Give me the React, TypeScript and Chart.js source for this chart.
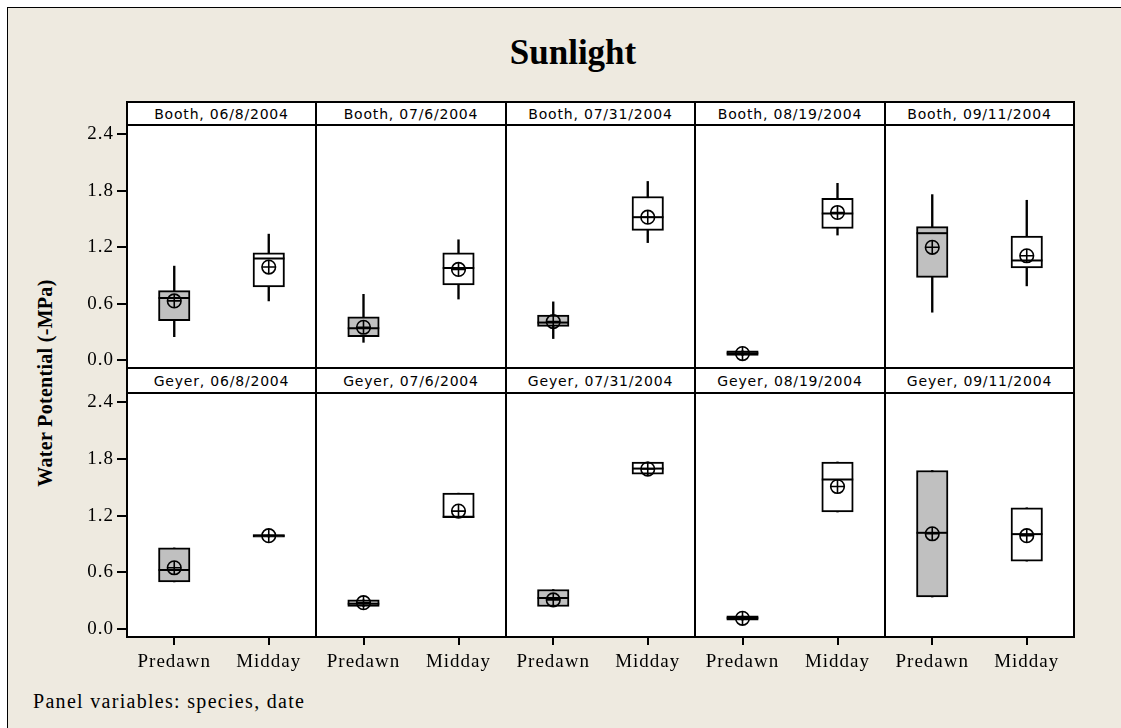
import React, { useEffect, useRef } from "react";
import { Chart, registerables } from "chart.js";

Chart.register(...registerables);

// ---------- data ----------
const chartTitle = "Sunlight";
const yAxisTitle = "Water Potential (-MPa)";
const footnote = "Panel variables: species, date";
const species = ["Booth", "Geyer"];
const dates = ["06/8/2004", "07/6/2004", "07/31/2004", "08/19/2004", "09/11/2004"];
const periods = ["Predawn", "Midday"];
const yTicks = [0, 0.6, 1.2, 1.8, 2.4];
const yMin = -0.083;
const yMax = 2.5;

// each entry: [Predawn, Midday]
const boothLow = [[0.25, 0.63], [0.19, 0.65], [0.23, 1.25], [0.05, 1.33], [0.51, 0.79]];
const boothQ1 = [[0.42, 0.78], [0.25, 0.8], [0.36, 1.38], [0.05, 1.4], [0.88, 0.98]];
const boothMedian = [[0.66, 1.08], [0.34, 0.98], [0.4, 1.52], [0.075, 1.56], [1.35, 1.06]];
const boothQ3 = [[0.74, 1.14], [0.46, 1.14], [0.48, 1.74], [0.1, 1.72], [1.42, 1.32]];
const boothHigh = [[1.0, 1.34], [0.7, 1.28], [0.62, 1.9], [0.1, 1.88], [1.76, 1.7]];
const boothMean = [[0.63, 0.99], [0.35, 0.965], [0.41, 1.52], [0.07, 1.57], [1.2, 1.11]];

const geyerLow = [[0.5, 0.975], [0.24, 1.18], [0.24, 1.64], [0.095, 1.24], [0.34, 0.72]];
const geyerQ1 = [[0.5, 0.975], [0.24, 1.18], [0.24, 1.64], [0.095, 1.24], [0.34, 0.72]];
const geyerMedian = [[0.625, 0.99], [0.27, 1.19], [0.33, 1.7], [0.117, 1.585], [1.02, 1.006]];
const geyerQ3 = [[0.86, 1.0], [0.31, 1.44], [0.42, 1.77], [0.14, 1.77], [1.68, 1.285]];
const geyerHigh = [[0.86, 1.0], [0.31, 1.44], [0.42, 1.77], [0.14, 1.77], [1.68, 1.285]];
const geyerMean = [[0.65, 0.99], [0.28, 1.25], [0.31, 1.695], [0.115, 1.51], [1.01, 0.99]];

const seriesBySpecies = [
  { low: boothLow, q1: boothQ1, median: boothMedian, q3: boothQ3, high: boothHigh, mean: boothMean },
  { low: geyerLow, q1: geyerQ1, median: geyerMedian, q3: geyerQ3, high: geyerHigh, mean: geyerMean },
];

// ---------- layout ----------
const xs = [127, 316, 506, 695, 885, 1074];
const rowPlotTop = [125, 393];
const rowPlotBottom = [368, 637];
const rowHeaderTop = [102, 368];
const Y_AXIS_W = 60;
const X_AXIS_H = 45;
const BOX_W = 31.5;
const serif = "'Liberation Serif', 'Times New Roman', serif";
const sans = "'DejaVu Sans', Verdana, sans-serif";
const BG = "#EEEAE0";
const BOX_GRAY = "#C0C0C0";

const spacingPlugin = {
  id: "letterSpacing",
  beforeDraw(chart: any) {
    try {
      (chart.ctx as any).letterSpacing = "1px";
    } catch (e) {}
  },
};

function Panel({ row, col }: { row: number; col: number }) {
  const ref = useRef<HTMLCanvasElement>(null);
  const L = col === 0 ? Y_AXIS_W : 0;
  const B = row === 1 ? X_AXIS_H : 0;
  const plotW = xs[col + 1] - xs[col];
  const plotH = rowPlotBottom[row] - rowPlotTop[row];
  const width = plotW + L;
  const height = plotH + B;

  useEffect(() => {
    const s = seriesBySpecies[row];
    const low = s.low[col];
    const q1 = s.q1[col];
    const med = s.median[col];
    const q3 = s.q3[col];
    const high = s.high[col];
    const mean = s.mean[col];
    const chart = new Chart(ref.current!, {
      type: "bar",
      data: {
        labels: periods,
        datasets: [
          {
            type: "bar",
            label: "whisker",
            data: low.map((v, k) => [v, high[k]]) as any,
            backgroundColor: "#000",
            borderWidth: 0,
            barThickness: 1.7,
            grouped: false,
            order: 4,
          } as any,
          {
            type: "bar",
            label: "box",
            data: q1.map((v, k) => [v, q3[k]]) as any,
            backgroundColor: [BOX_GRAY, "#FFFFFF"],
            borderColor: "#000",
            borderWidth: 2,
            borderSkipped: false,
            barThickness: BOX_W,
            grouped: false,
            order: 3,
          } as any,
          {
            type: "line",
            label: "median",
            data: med,
            showLine: false,
            pointStyle: "line",
            pointRadius: BOX_W / 2,
            pointBorderColor: "#000",
            pointBorderWidth: 2,
            order: 2,
          } as any,
          {
            type: "line",
            label: "mean",
            data: mean,
            showLine: false,
            pointStyle: "circle",
            pointRadius: 6.8,
            pointBackgroundColor: "rgba(0,0,0,0)",
            pointBorderColor: "#000",
            pointBorderWidth: 1.6,
            order: 1,
          } as any,
          {
            type: "line",
            label: "meanCross",
            data: mean,
            showLine: false,
            pointStyle: "cross",
            pointRadius: 6.8,
            pointBorderColor: "#000",
            pointBorderWidth: 1.6,
            order: 0,
          } as any,
        ],
      },
      options: {
        animation: false,
        responsive: false,
        events: [],
        layout: { padding: 0, autoPadding: false },
        plugins: { legend: { display: false }, tooltip: { enabled: false }, title: { display: false } },
        scales: {
          x: {
            display: row === 1,
            offset: true,
            afterFit: (sc: any) => {
              sc.height = B;
              sc.paddingLeft = 0;
              sc.paddingRight = 0;
              sc.paddingTop = 0;
              sc.paddingBottom = 0;
            },
            ticks: {
              color: "#000",
              font: { family: serif, size: 19 },
              padding: 6,
              autoSkip: false,
              maxRotation: 0,
              minRotation: 0,
            },
            grid: {
              display: true,
              drawOnChartArea: false,
              drawTicks: true,
              tickLength: 8,
              color: "#000",
              lineWidth: 2,
              offset: false,
            },
            border: { display: false },
          },
          y: {
            display: col === 0,
            min: yMin,
            max: yMax,
            afterBuildTicks: (sc: any) => {
              sc.ticks = yTicks.map((v) => ({ value: v }));
            },
            afterFit: (sc: any) => {
              sc.width = L;
              sc.paddingTop = 0;
              sc.paddingBottom = 0;
              sc.paddingLeft = 0;
              sc.paddingRight = 0;
            },
            ticks: {
              color: "#000",
              font: { family: serif, size: 19 },
              padding: 3,
              callback: (v: any) => Number(v).toFixed(1),
            },
            grid: {
              display: true,
              drawOnChartArea: false,
              drawTicks: true,
              tickLength: 10,
              color: "#000",
              lineWidth: 2,
            },
            border: { display: false },
          },
        },
      } as any,
      plugins: [spacingPlugin],
    });
    return () => chart.destroy();
  }, []);

  return (
    <canvas
      ref={ref}
      width={width}
      height={height}
      style={{
        position: "absolute",
        left: xs[col] - L,
        top: rowPlotTop[row],
        width,
        height,
      }}
    />
  );
}

export default function App() {
  const lines: React.ReactNode[] = [];
  const hLineYs = [101, 124, 367, 392, 636];
  hLineYs.forEach((y, k) =>
    lines.push(
      <div
        key={"h" + k}
        style={{ position: "absolute", left: xs[0] - 1, top: y, width: xs[5] - xs[0] + 2, height: 2, background: "#000" }}
      />
    )
  );
  xs.forEach((x, k) =>
    lines.push(
      <div
        key={"v" + k}
        style={{ position: "absolute", left: x - 1, top: 101, width: 2, height: 637 - 101, background: "#000" }}
      />
    )
  );

  const headers: React.ReactNode[] = [];
  species.forEach((sp, r) =>
    dates.forEach((d, c) =>
      headers.push(
        <div
          key={"hd" + r + c}
          style={{
            position: "absolute",
            left: xs[c],
            top: rowHeaderTop[r],
            width: xs[c + 1] - xs[c],
            height: rowPlotTop[r] - rowHeaderTop[r],
            background: "#fff",
            font: `14px ${sans}`,
            letterSpacing: "0.8px",
            color: "#000",
            display: "flex",
            alignItems: "center",
            justifyContent: "center",
            whiteSpace: "nowrap",
          }}
        >
          {`${sp}, ${d}`}
        </div>
      )
    )
  );

  const plotsBg: React.ReactNode[] = [];
  [0, 1].forEach((r) =>
    [0, 1, 2, 3, 4].forEach((c) =>
      plotsBg.push(
        <div
          key={"bg" + r + c}
          style={{
            position: "absolute",
            left: xs[c],
            top: rowPlotTop[r],
            width: xs[c + 1] - xs[c],
            height: rowPlotBottom[r] - rowPlotTop[r],
            background: "#fff",
          }}
        />
      )
    )
  );

  const panels: React.ReactNode[] = [];
  [0, 1].forEach((r) => [0, 1, 2, 3, 4].forEach((c) => panels.push(<Panel key={"p" + r + c} row={r} col={c} />)));

  return (
    <div style={{ position: "absolute", left: 0, top: 0, width: 1121, height: 728, overflow: "hidden", background: "#fff" }}>
      <div
        style={{
          position: "absolute",
          left: 7,
          top: 7,
          width: 1140,
          height: 740,
          background: BG,
          borderLeft: "1px solid #000",
          borderTop: "1px solid #000",
          boxSizing: "border-box",
        }}
      />
      <div
        style={{
          position: "absolute",
          left: 0,
          top: 35,
          width: 1146,
          textAlign: "center",
          font: `bold 35px ${serif}`,
          lineHeight: "35px",
          color: "#000",
        }}
      >
        {chartTitle}
      </div>
      <div
        style={{
          position: "absolute",
          left: 45,
          top: 383,
          transform: "translate(-50%, -50%) rotate(-90deg)",
          font: `bold 20px ${serif}`,
          letterSpacing: "0.3px",
          whiteSpace: "nowrap",
          color: "#000",
        }}
      >
        {yAxisTitle}
      </div>
      {plotsBg}
      {panels}
      {headers}
      {lines}
      <div
        style={{
          position: "absolute",
          left: 33,
          top: 691,
          font: `20px ${serif}`,
          lineHeight: "20px",
          letterSpacing: "1.3px",
          whiteSpace: "nowrap",
          color: "#000",
        }}
      >
        {footnote}
      </div>
    </div>
  );
}
